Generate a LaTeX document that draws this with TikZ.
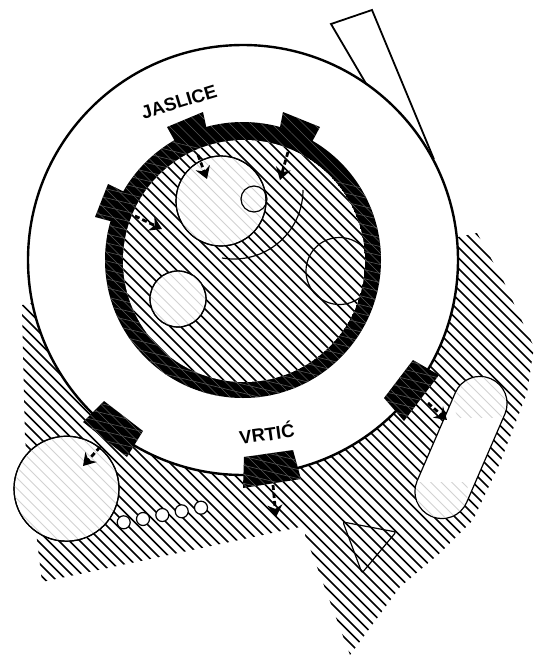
\documentclass[tikz,border=0pt]{standalone}
\usepackage{fontspec}
\setmainfont{Liberation Sans}
\usetikzlibrary{arrows.meta}

\tikzset{
  hatchline/.style={black, line width=1.7pt},
  palehatch/.style={gray!35, line width=0.8pt},
  darkhatch/.style={black!65, line width=0.6pt},
  outline/.style={draw=black, line width=1.2pt},
  flow/.style={line width=2.8pt, dash pattern=on 5pt off 3pt, -{Stealth[length=12pt,width=15pt]}},
  label/.style={font=\bfseries\fontsize{18.5}{18.5}\selectfont}
}
\newcommand{\hatchlines}[1]{\foreach \c in {-650,-639.5,...,553} \draw[#1] (\c,0) -- ++(659,659);}
\newcommand{\shallowlines}[1]{\foreach \c in {100,109,...,520} \draw[#1] (0,\c) -- ++(534,130);}

\begin{document}
\begin{tikzpicture}[x=1pt, y=-1pt]
  \useasboundingbox (0,0) rectangle (534,659);

  % ground
  \begin{scope}
    \clip (22,305) -- (25,440) -- (42,582) -- (305,526) -- (305,535) -- (350,655)
      -- (400,587) -- (440,553) -- (473,520) -- (500,463) -- (527,393) -- (534,347)
      -- (503,280) -- (477,233) -- (458,237) -- (243,260) -- cycle;
    \hatchlines{hatchline}
  \end{scope}

  % strip behind the big disc
  \draw[outline, line width=1.8pt, fill=white] (331,24) -- (372,10) -- (433,157) -- (395,133) -- cycle;

  % big disc
  \draw[fill=white, line width=2.4pt] (243,260) circle (215);

  % ring
  \fill[black] (243,260) circle (138);
  \begin{scope}
    \clip (243,260) circle (138);
    \hatchlines{darkhatch}
    \shallowlines{darkhatch}
  \end{scope}
  \begin{scope}
    \clip (244,261) circle (121);
    \fill[white] (244,261) circle (121);
    \hatchlines{hatchline}
  \end{scope}

  % circles inside the ring
  \draw[outline, fill=white] (221,201) circle (45);
  \draw[outline, fill=white] (178,299) circle (28);
  \begin{scope}
    \clip (221,201) circle (45);
    \hatchlines{palehatch}
  \end{scope}
  \begin{scope}
    \clip (178,299) circle (28);
    \hatchlines{palehatch}
  \end{scope}
  \draw[outline] (221,201) circle (45);
  \draw[outline] (178,299) circle (28);
  \draw[outline] (254,199) circle (13);
  \draw[outline] (303,190) arc[start angle=0, end angle=100, radius=69];
  \begin{scope}
    \clip (244,261) circle (121);
    \draw[outline] (339.5,271) circle (33.5);
  \end{scope}

  % lower left circle and small ones
  \draw[outline, fill=white] (66.5,488.7) circle (52.5);
  \begin{scope}
    \clip (66.5,488.7) circle (52.5);
    \hatchlines{palehatch}
  \end{scope}
  \draw[outline] (66.5,488.7) circle (52.5);
  \foreach \x/\y in {123.7/522.3, 143/519, 162.3/515, 181.7/511.3, 201/507.7}
    \draw[outline, fill=white] (\x,\y) circle (6.5);

  % long room
  \node[outline, fill=white, rounded corners=26.9pt, minimum width=150pt, minimum height=54pt,
        rotate=66.6, inner sep=0pt] (longroom) at (461,447.5) {};
  \begin{scope}
    \clip (480,403) circle (26);
    \clip (440,370) rectangle (520,417);
    \hatchlines{palehatch}
  \end{scope}
  \begin{scope}
    \clip (442,492) circle (26);
    \clip (400,482) rectangle (480,530);
    \hatchlines{palehatch}
  \end{scope}

  % triangle
  \draw[outline, rounded corners=2pt] (343,522) -- (396,532) -- (362,573) -- cycle;

  % blocks
  \foreach \blockpath in {
    {(167,127) -- (203,112) -- (208,135) -- (177,145) -- cycle},
    {(283,112) -- (320,127) -- (312,142) -- (280,127) -- cycle},
    {(108,184) -- (135,197) -- (125,225) -- (95,217) -- cycle},
    {(104,401) -- (143,431) -- (127,457) -- (83,422) -- cycle},
    {(244,457) -- (293,450) -- (301,479) -- (243,488) -- cycle},
    {(413,360) -- (439,375) -- (404,421) -- (384,398) -- cycle}}
  {
    \begin{scope}
      \fill[black] \blockpath;
      \clip \blockpath;
      \hatchlines{darkhatch}
      \shallowlines{darkhatch}
    \end{scope}
  }

  % arrows
  \coordinate (topaS) at (198,155);  \coordinate (topaE) at (207,179);
  \coordinate (topbS) at (288,152);  \coordinate (topbE) at (280,180);
  \coordinate (sideS) at (135,216);  \coordinate (sideE) at (162,229);
  \coordinate (leftS) at (100,447);  \coordinate (leftE) at (83,466);
  \coordinate (downS) at (273,485);  \coordinate (downE) at (276,517);
  \coordinate (rightS) at (428,403); \coordinate (rightE) at (447,420);
  \draw[flow] (topaS) -- (topaE);
  \draw[flow] (topbS) -- (topbE);
  \draw[flow] (sideS) -- (sideE);
  \draw[flow] (leftS) -- (leftE);
  \draw[flow] (downS) -- (downE);
  \draw[flow] (rightS) -- (rightE);

  % labels
  \node[label, rotate=17, inner sep=0pt] (jaslice) at (179,102) {JASLICE};
  \node[label, rotate=8, inner sep=0pt] (vrtic) at (266.7,432.7) {VRTIĆ};
\end{tikzpicture}
\end{document}
